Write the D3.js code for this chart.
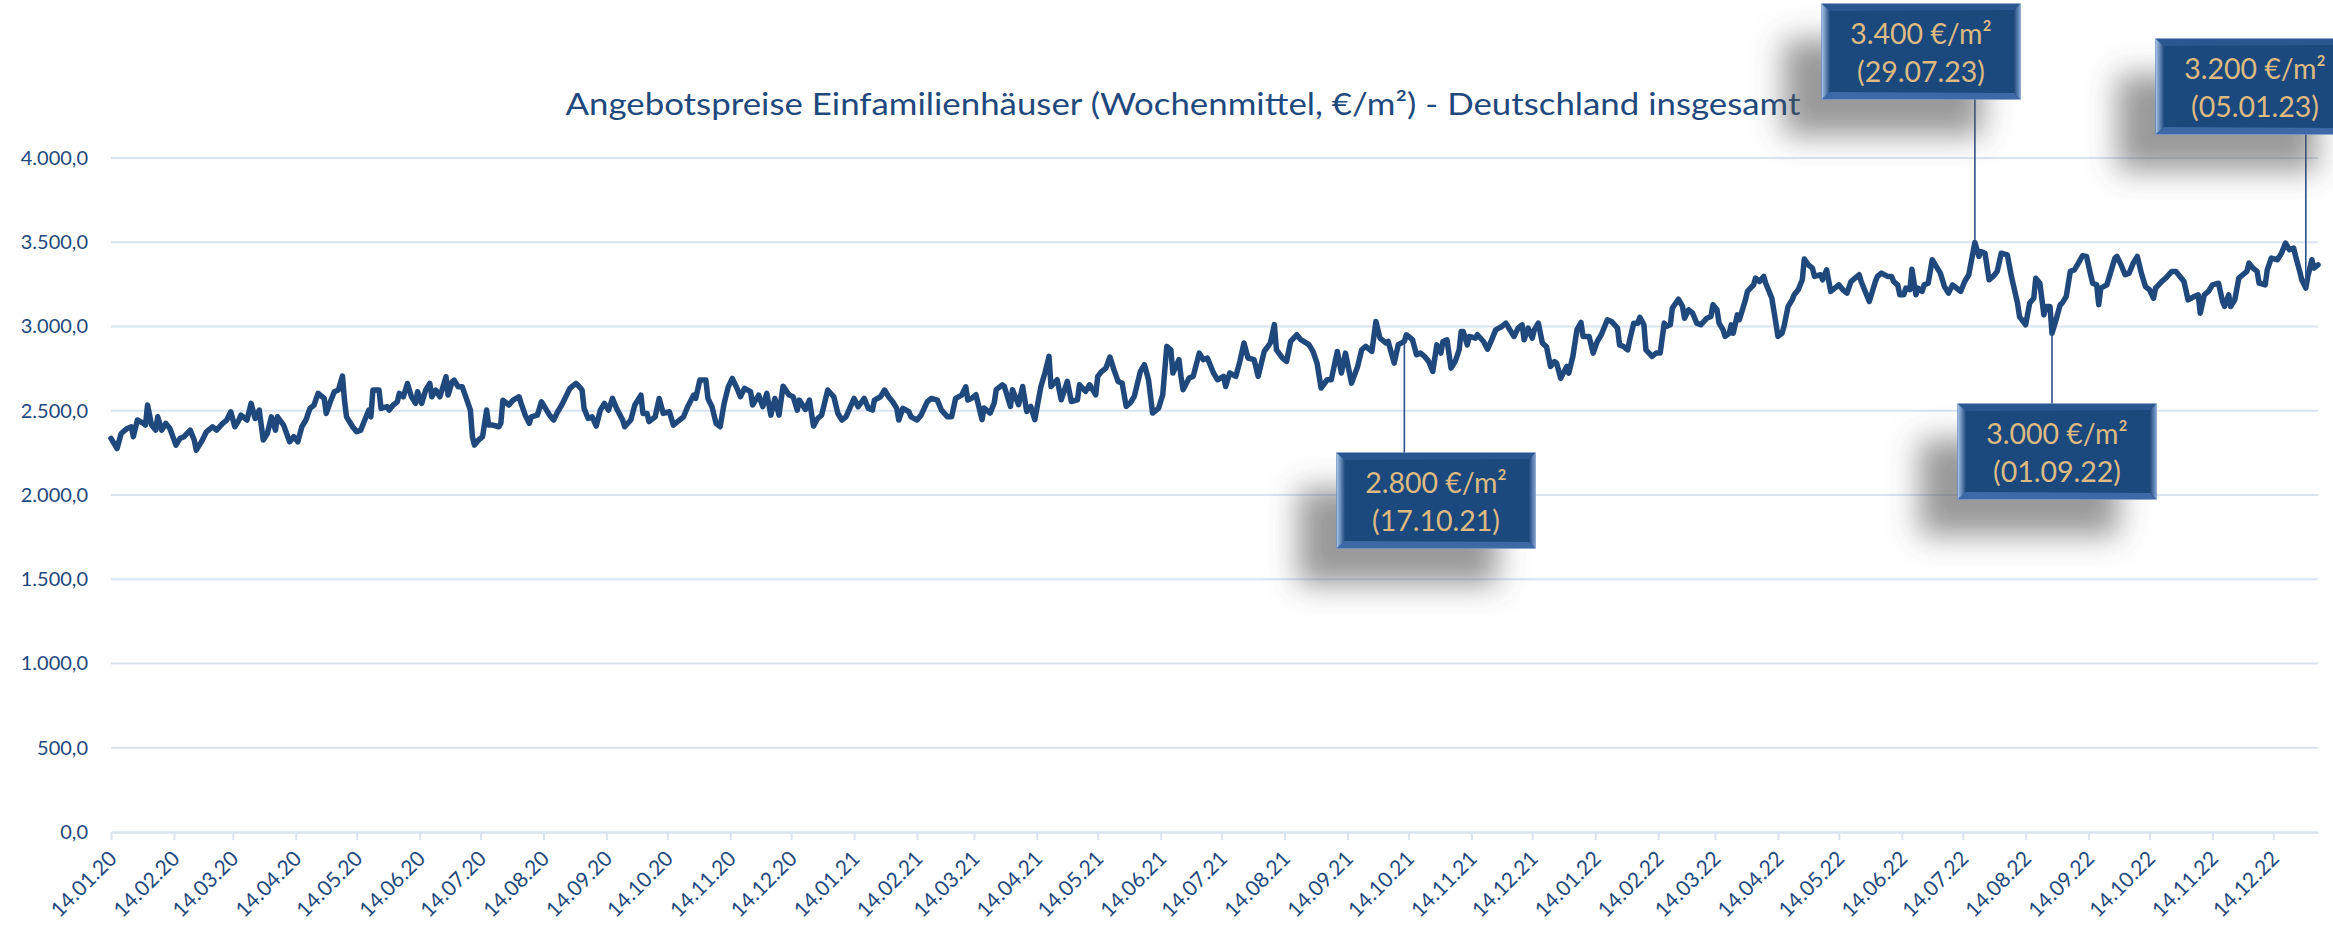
<!DOCTYPE html>
<html>
<head>
<meta charset="utf-8">
<script src="https://cdn.jsdelivr.net/npm/d3@7"></script>
<style>
  body { margin: 0; background: #ffffff; }
  svg { display: block; font-family: Lato, "Open Sans", sans-serif; }
</style>
</head>
<body>
<div id="chart"></div>
<script>
const title = "Angebotspreise Einfamilienhäuser (Wochenmittel, €/m²) - Deutschland insgesamt";

// days counted from startDate, price in €/m²
const startDate = "14.01.20";
const endDate = "05.01.23";

const dayOffsets = [
  0,3,5,8,10,11,13,16,17,18,
  20,22,23,25,27,29,32,34,36,39,
  41,42,45,47,50,52,55,57,59,61,
  63,64,67,69,71,73,75,77,79,81,
  82,85,88,90,92,94,96,98,100,102,
  105,106,108,110,112,114,115,116,119,121,
  123,125,127,128,129,132,133,136,137,139,
  141,142,144,146,148,150,151,153,155,157,
  158,160,162,164,165,166,168,169,171,173,
  175,177,178,179,181,183,185,186,188,191,
  192,193,196,198,201,
  202,204,206,207,210,212,214,216,218,220,
  222,224,226,229,230,232,233,235,237,239,
  241,243,245,247,249,252,253,256,258,261,
  262,264,265,268,270,272,275,277,279,282,
  284,287,288,290,293,294,296,298,300,302,
  304,306,308,310,312,315,316,319,321,323,
  325,327,329,331,334,336,338,339,342,344,
  346,348,350,353,356,358,360,362,366,368,
  371,373,375,376,379,381,383,385,387,388,
  390,393,394,397,399,402,404,407,409,412,
  414,416,419,421,422,
  424,426,427,429,430,433,435,436,439,440,
  443,444,447,449,451,453,455,458,460,462,
  463,466,468,471,473,476,477,480,482,485,
  486,488,490,492,494,496,498,500,502,504,
  507,509,511,513,516,518,520,522,523,526,
  527,528,531,533,536,538,540,543,545,548,
  549,551,554,556,558,560,563,565,568,571,
  573,574,577,579,581,584,586,590,592,594,
  596,599,601,604,606,608,611,614,616,618,
  621,623,625,628,629,632,634,637,638,641,
  643,645,
  646,647,649,651,653,655,656,658,660,662,
  664,665,666,668,669,672,673,676,678,680,
  682,685,687,689,691,693,695,696,698,700,
  701,703,705,707,709,711,712,714,717,718,
  720,722,724,725,728,730,732,734,737,739,
  742,743,745,747,748,750,752,753,755,756,
  759,761,763,765,766,768,769,772,774,775,
  777,779,781,783,786,788,789,791,792,794,
  795,797,798,799,801,802,805,806,809,810,
  812,814,815,818,820,821,823,824,826,828,
  829,831,833,834,836,838,839,842,843,845,
  847,849,851,853,855,857,859,861,862,864,
  866,
  869,870,872,875,877,878,880,881,883,884,
  886,887,889,890,892,893,895,897,898,901,
  903,905,907,910,911,913,915,917,918,920,
  921,923,925,927,929,931,934,936,939,940,
  943,945,947,948,950,952,953,955,956,958,
  960,961,963,965,967,969,971,973,975,976,
  978,979,980,983,985,987,988,990,992,994,
  996,998,1000,1002,1004,1006,1007,1010,1012,1015,
  1017,1019,1021,1023,1026,1028,1029,1031,1033,1035,
  1038,1040,1041,1043,1044,1046,1048,1049,1052,1053,
  1055,1057,1058,1061,1062,1064,1067,1069,1071,1073,
  1075,1076,1078,1079,1081,1082,1084,1085,1087
];

const prices = [
  2336,2276,2365,2395,2405,2346,2445,2425,2415,2534,
  2415,2385,2464,2385,2425,2395,2296,2336,2346,2385,
  2326,2266,2326,2375,2405,2385,2425,2445,2494,2405,
  2445,2474,2445,2544,2454,2504,2326,2365,2464,2385,
  2464,2415,2316,2346,2316,2405,2445,2514,2534,2603,
  2573,2484,2553,2613,2623,2706,2563,2464,2405,2375,
  2385,2445,2504,2464,2623,2623,2514,2524,2504,2534,
  2553,2603,2583,2662,2583,2544,2613,2544,2623,2662,
  2583,2623,2583,2662,2702,2593,2672,2682,2642,2642,
  2573,2504,2346,2296,2326,2346,2504,2415,2415,2405,
  2425,2563,2534,2563,2583,
  2544,2474,2425,2464,2474,2553,2514,2474,2445,2494,
  2534,2583,2633,2662,2652,2623,2514,2454,2464,2409,
  2504,2544,2504,2573,2514,2445,2405,2445,2534,2593,
  2484,2484,2435,2464,2573,2484,2494,2415,2435,2464,
  2524,2593,2573,2682,2682,2573,2524,2425,2405,2544,
  2642,2692,2642,2583,2633,2613,2534,2593,2524,2603,
  2474,2573,2474,2646,2593,2583,2504,2563,2508,2563,
  2409,2454,2474,2623,2583,2484,2445,2464,2573,2524,
  2573,2514,2504,2563,2583,2623,2583,2553,2514,2445,
  2514,2494,2464,2445,2474,2553,2573,2563,2504,2464,
  2464,2573,2593,2642,2563,
  2575,2595,2546,2447,2516,2486,2546,2625,2654,2644,
  2526,2625,2536,2644,2496,2526,2447,2644,2724,2823,
  2644,2684,2565,2674,2555,2565,2654,2615,2654,2595,
  2704,2734,2753,2819,2743,2674,2664,2526,2546,2585,
  2734,2773,2684,2486,2516,2595,2882,2862,2724,2803,
  2704,2625,2694,2704,2842,2803,2813,2724,2684,2704,
  2644,2724,2704,2793,2902,2813,2803,2704,2852,2902,
  3011,2862,2813,2793,2912,2951,2922,2892,2852,2783,
  2635,2684,2684,2852,2724,2842,2664,2763,2862,2882,
  2852,3030,2931,2902,2912,2783,2892,2912,2951,2922,
  2832,2842,
  2832,2822,2792,2733,2891,2842,2911,2921,2753,2792,
  2861,2970,2970,2891,2941,2931,2951,2911,2865,2921,
  2980,3000,3020,2980,2941,2990,3010,2921,2990,2931,
  2980,3020,2901,2881,2763,2792,2782,2693,2763,2723,
  2822,2980,3024,2941,2941,2842,2911,2951,3040,3030,
  2990,2891,2881,2861,2921,3020,3020,3055,3010,2861,
  2822,2842,2842,3020,3000,3010,3109,3162,3119,3049,
  3099,3079,3020,3010,3049,3059,3129,3099,3020,2980,
  2941,2960,3010,2960,3069,3040,3158,3208,3247,3287,
  3267,3297,3257,3168,3020,2941,2960,3000,3119,3158,
  3188,3218,3277,3400,3366,3346,3297,3307,3277,3336,
  3208,3228,3247,3218,3198,3267,3287,3307,3267,3208,
  3148,
  3267,3297,3317,3297,3297,3267,3247,3188,3188,3228,
  3218,3340,3188,3228,3208,3247,3257,3396,3376,3317,
  3237,3198,3247,3218,3208,3267,3307,3435,3499,3416,
  3445,3435,3277,3297,3327,3435,3425,3297,3139,3059,
  3010,3139,3168,3287,3257,3069,3119,3119,2960,3040,
  3129,3139,3178,3327,3336,3376,3420,3416,3307,3257,
  3247,3129,3228,3247,3327,3406,3416,3366,3307,3317,
  3376,3416,3317,3237,3218,3168,3228,3267,3287,3327,
  3327,3297,3267,3158,3178,3188,3079,3188,3208,3247,
  3257,3148,3119,3188,3119,3158,3287,3297,3327,3376,
  3346,3327,3257,3247,3336,3406,3396,3435,3495,3455,
  3465,3416,3327,3277,3228,3297,3396,3346,3366
];

const yTicks = [0, 500, 1000, 1500, 2000, 2500, 3000, 3500, 4000];

const xTickLabels = [
  "14.01.20","14.02.20","14.03.20","14.04.20","14.05.20","14.06.20",
  "14.07.20","14.08.20","14.09.20","14.10.20","14.11.20","14.12.20",
  "14.01.21","14.02.21","14.03.21","14.04.21","14.05.21","14.06.21",
  "14.07.21","14.08.21","14.09.21","14.10.21","14.11.21","14.12.21",
  "14.01.22","14.02.22","14.03.22","14.04.22","14.05.22","14.06.22",
  "14.07.22","14.08.22","14.09.22","14.10.22","14.11.22","14.12.22"
];

// callouts: point on the line, value text, date text
const calloutAt    = ["12.10.21", "20.07.22", "27.08.22", "30.12.22"];
const calloutValue = ["2.800 €/m²", "3.400 €/m²", "3.000 €/m²", "3.200 €/m²"];
const calloutDate  = ["(17.10.21)", "(29.07.23)", "(01.09.22)", "(05.01.23)"];

// layout
const width = 2333, height = 926;
const plot = {left: 111, right: 2318, top: 158, bottom: 832};
const boxPos = [{x: 1337, y: 453}, {x: 1822, y: 4}, {x: 1958, y: 404}, {x: 2156, y: 39}];
const boxW = 198, boxH = 95;

const navy = "#1F497D";
const gridColor = "#D9E3F1";
const gold = "#DDBA82";

const parseDate = d3.timeParse("%d.%m.%y");
const first = parseDate(startDate);
const series = dayOffsets.map((d, i) => ({date: d3.timeDay.offset(first, d), value: prices[i]}));

const deLocale = d3.formatLocale({decimal: ",", thousands: ".", grouping: [3], currency: ["", " €"]});
const yFormat = deLocale.format(",.1f");

const x = d3.scaleTime()
            .domain([first, parseDate(endDate)])
            .range([plot.left, plot.right]);

const y = d3.scaleLinear()
            .domain([0, 4000])
            .range([plot.bottom, plot.top]);

const svg = d3.select("#chart").append("svg")
              .attr("width", width)
              .attr("height", height);

const defs = svg.append("defs");

const shadow = defs.append("filter")
                   .attr("id", "boxShadow")
                   .attr("x", "-70%").attr("y", "-70%")
                   .attr("width", "240%").attr("height", "240%");
shadow.append("feDropShadow")
      .attr("dx", -38).attr("dy", 36)
      .attr("stdDeviation", 15)
      .attr("flood-color", "#555555")
      .attr("flood-opacity", 0.6);

const gl = defs.append("linearGradient").attr("id", "bevelLeft");
gl.append("stop").attr("offset", 0).attr("stop-color", "#A3C0E6");
gl.append("stop").attr("offset", 1).attr("stop-color", navy);

const gr = defs.append("linearGradient").attr("id", "bevelRight");
gr.append("stop").attr("offset", 0).attr("stop-color", navy);
gr.append("stop").attr("offset", 1).attr("stop-color", "#7A9CCD");

svg.append("text")
   .attr("x", 1183)
   .attr("y", 115)
   .attr("text-anchor", "middle")
   .attr("font-size", 31)
   .attr("textLength", 1235)
   .attr("lengthAdjust", "spacingAndGlyphs")
   .attr("fill", navy)
   .text(title);

// gridlines
svg.append("g").selectAll("line")
   .data(yTicks.filter(v => v > 0))
   .enter()
   .append("line")
   .attr("x1", plot.left)
   .attr("x2", plot.right)
   .attr("y1", d => y(d))
   .attr("y2", d => y(d))
   .attr("stroke", gridColor)
   .attr("stroke-width", 2);

const yAxis = svg.append("g")
                 .attr("transform", `translate(${plot.left},0)`)
                 .call(d3.axisLeft(y).tickValues(yTicks).tickSize(0).tickPadding(23).tickFormat(yFormat));
yAxis.select(".domain").remove();
yAxis.selectAll("text")
     .attr("font-family", "Lato, 'Open Sans', sans-serif")
     .attr("font-size", 20)
     .attr("fill", navy);

const xAxis = svg.append("g")
                 .attr("transform", `translate(0,${plot.bottom})`)
                 .call(d3.axisBottom(x)
                         .tickValues(xTickLabels.map(parseDate))
                         .tickSize(8)
                         .tickSizeOuter(0)
                         .tickFormat(d3.timeFormat("%d.%m.%y")));
xAxis.select(".domain")
     .attr("stroke", gridColor)
     .attr("stroke-width", 2.5);
xAxis.selectAll(".tick line")
     .attr("stroke", gridColor)
     .attr("stroke-width", 2);
xAxis.selectAll("text")
     .attr("font-family", "Lato, 'Open Sans', sans-serif")
     .attr("font-size", 21)
     .attr("fill", navy)
     .attr("text-anchor", "end")
     .attr("x", -15)
     .attr("y", 17)
     .attr("dy", "0.35em")
     .attr("transform", "rotate(-45)");

const line = d3.line()
               .x(d => x(d.date))
               .y(d => y(d.value));

svg.append("path")
   .datum(series)
   .attr("d", line)
   .attr("fill", "none")
   .attr("stroke", navy)
   .attr("stroke-width", 5.5)
   .attr("stroke-linejoin", "round")
   .attr("stroke-linecap", "round");

// callouts
const nearest = d3.bisector(d => d.date).center;

calloutAt.forEach((s, i) => {
  const p = series[nearest(series, parseDate(s))];
  const lx = x(p.date), ly = y(p.value);
  const b = boxPos[i];
  const x0 = b.x, y0 = b.y, x1 = b.x + boxW, y1 = b.y + boxH;

  svg.append("line")
     .attr("x1", lx).attr("x2", lx)
     .attr("y1", ly)
     .attr("y2", y0 > ly ? y0 : y1)
     .attr("stroke", "#2C5288")
     .attr("stroke-width", 1.6);

  const g = svg.append("g");

  g.append("rect")
   .attr("x", x0).attr("y", y0)
   .attr("width", boxW).attr("height", boxH)
   .attr("fill", navy)
   .attr("stroke", "#6B8EC2")
   .attr("stroke-width", 1.5)
   .attr("filter", "url(#boxShadow)");

  g.append("polygon")
   .attr("points", [[x0, y0], [x0 + 8, y0 + 7], [x0 + 8, y1 - 7], [x0, y1]].join(" "))
   .attr("fill", "url(#bevelLeft)");

  g.append("polygon")
   .attr("points", [[x1, y0], [x1 - 6, y0 + 6], [x1 - 6, y1 - 6], [x1, y1]].join(" "))
   .attr("fill", "url(#bevelRight)");

  g.append("polygon")
   .attr("points", [[x0, y0], [x1, y0], [x1 - 6, y0 + 6], [x0 + 8, y0 + 7]].join(" "))
   .attr("fill", "#2A5790");

  g.append("polygon")
   .attr("points", [[x0, y1], [x1, y1], [x1 - 6, y1 - 6], [x0 + 8, y1 - 7]].join(" "))
   .attr("fill", "#3D6AA6");

  g.append("text")
   .attr("x", x0 + boxW / 2)
   .attr("y", y0 + 40)
   .attr("text-anchor", "middle")
   .attr("font-size", 28.5)
   .attr("fill", gold)
   .text(calloutValue[i]);

  g.append("text")
   .attr("x", x0 + boxW / 2)
   .attr("y", y0 + 78)
   .attr("text-anchor", "middle")
   .attr("font-size", 28.5)
   .attr("fill", gold)
   .text(calloutDate[i]);
});
</script>
</body>
</html>
